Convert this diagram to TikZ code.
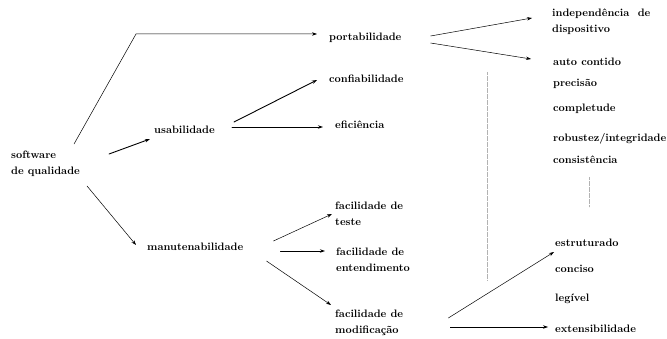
\documentclass[tikz,border=0pt]{standalone}
\usepackage{tikz}
\usetikzlibrary{arrows.meta}

\begin{document}
\begin{tikzpicture}[line cap=round,line join=round,>={Stealth[length=5pt,width=3.4pt]},x=1pt,y=-1pt,
        lbl/.style={anchor=west,inner sep=0pt,align=left,font=\fontsize{10.8}{16}\selectfont\bfseries},
        arr/.style={->,line width=0.5pt},
        thk/.style={->,line width=0.9pt},
        dots/.style={gray!60,line width=0.9pt,line cap=butt,dash pattern=on 0.5pt off 0.7pt}]
        \useasboundingbox (0,0) rectangle (667,339);
        \node[lbl] (soft) at (11,164) {software\\de qualidade};
        \node[lbl] (port) at (329,38) {portabilidade};
        \node[lbl] (usab) at (154,130) {usabilidade};
        \node[lbl] (conf) at (329,79) {confiabilidade};
        \node[lbl] (efic) at (335,125) {efici\^encia};
        \node[lbl] (manu) at (147,247) {manutenabilidade};
        \node[lbl] (teste) at (335,214) {facilidade de\\teste};
        \node[lbl] (entend) at (336,260) {facilidade de\\entendimento};
        \node[lbl] (modif) at (335,323) {facilidade de\\modifica\c{c}\~ao};
        \node[lbl] (indep) at (552,22) {independ\^encia\ \ de\\dispositivo};
        \node[lbl] (auto) at (553,62) {auto contido};
        \node[lbl] (prec) at (553,84) {precis\~ao};
        \node[lbl] (compl) at (553,109) {completude};
        \node[lbl] (robust) at (553,139) {robustez/integridade};
        \node[lbl] (consist) at (553,160) {consist\^encia};
        \node[lbl] (estrut) at (555,243) {estruturado};
        \node[lbl] (conciso) at (555,269) {conciso};
        \node[lbl] (legivel) at (555,299) {leg\'{\i}vel};
        \node[lbl] (extens) at (555,329) {extensibilidade};
        \coordinate (bend) at (136,34);
        \draw [arr] ([shift={(-6,-7)}]soft.north east) -- (bend) -- ([shift={(-12,-4)}]port.west);
        \draw [thk] ([shift={(29,-10)}]soft.east) -- ([shift={(-4,9)}]usab.west);
        \draw [arr] ([shift={(7,9)}]soft.south east) -- ([shift={(-11,-2)}]manu.west);
        \draw [thk] ([shift={(19,-8)}]usab.east) -- ([shift={(-12,1)}]conf.west);
        \draw [thk] ([shift={(17,-3)}]usab.east) -- ([shift={(-12,2)}]efic.west);
        \draw [arr] ([shift={(29,-2)}]port.east) -- ([shift={(-20,-4)}]indep.west);
        \draw [arr] ([shift={(29,5)}]port.east) -- ([shift={(-22,-3)}]auto.west);
        \draw [arr] ([shift={(30,-6)}]manu.east) -- ([shift={(-3,0)}]teste.west);
        \draw [thk] ([shift={(37,4)}]manu.east) -- ([shift={(-11,-9)}]entend.west);
        \draw [arr] ([shift={(23,14)}]manu.east) -- ([shift={(-4,-18)}]modif.west);
        \draw [arr] ([shift={(45,-5)}]modif.east) -- ([shift={(-1,9)}]estrut.west);
        \draw [arr] ([shift={(47,4)}]modif.east) -- ([shift={(-7,-2)}]extens.west);
        \draw [dots] (487,72) -- (487,280);
        \draw [dots] (589,177) -- (589,207);
    \end{tikzpicture}
\end{document}
